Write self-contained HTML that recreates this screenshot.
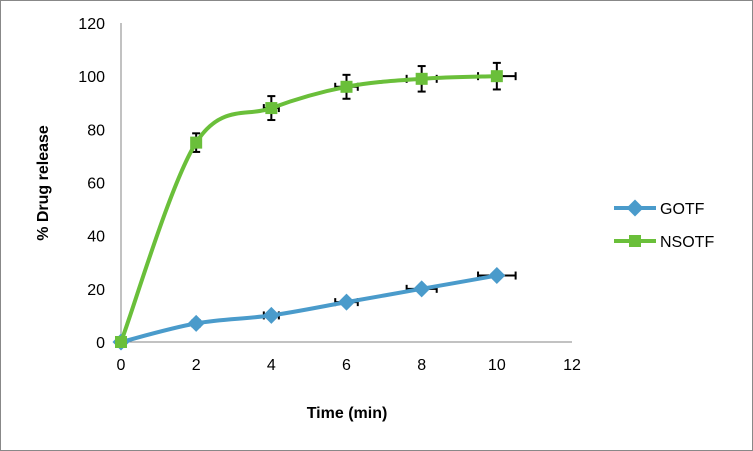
<!DOCTYPE html>
<html><head><meta charset="utf-8"><style>
body{margin:0;background:#fff;font-family:"Liberation Sans",Arial,sans-serif}
svg{display:block}
</style></head><body>
<svg width="753" height="451" id="c">
<rect x="0.5" y="0.5" width="752" height="450" fill="#fff" stroke="#888"/>
<g id="axes"></g><g id="series"></g>
<text x="347" y="418" text-anchor="middle" font-size="16" font-weight="bold">Time (min)</text>
<text transform="translate(48,183) rotate(-90)" text-anchor="middle" font-size="16" font-weight="bold">% Drug release</text>
<g>
<g><line x1="614" y1="208" x2="656" y2="208" stroke="#4a9bcb" stroke-width="4"/><rect x="629" y="202" width="12" height="12" fill="#4a9bcb" transform="rotate(45 635 208)"/><text x="660" y="214" font-size="16">GOTF</text></g>
<g><line x1="614" y1="241" x2="656" y2="241" stroke="#6abf3a" stroke-width="4"/><rect x="629" y="235" width="12" height="12" fill="#6abf3a"/><text x="660" y="247" font-size="16">NSOTF</text></g>
</g>
</svg>
<script>
const xs=[0,2,4,6,8,10];
const gotf=[0,7,10,15,20,25];
const nsotf=[0,75,88,96,99,100];
const gotfYErr=[0.5,1,1,1,1,1];
const nsotfYErr=[0,3.5,4.5,4.5,4.8,5];
const xErr=[0,0.1,0.2,0.3,0.4,0.5];
const xTicks=[0,2,4,6,8,10,12];
const yTicks=[0,20,40,60,80,100,120];
const NS='http://www.w3.org/2000/svg';
const X=v=>121+v*(572-121)/12, Y=v=>342-v*(342-23)/120;
function mk(t,a,p){const e=document.createElementNS(NS,t);for(const k in a)e.setAttribute(k,a[k]);p.appendChild(e);return e;}
const ax=document.getElementById('axes'), se=document.getElementById('series');
const ya=mk('line',{x1:X(0),y1:Y(120),x2:X(0),y2:Y(0),stroke:'#868686'},ax);


const xa=mk('line',{x1:X(0),y1:Y(0),x2:X(12),y2:Y(0),stroke:'#868686'},ax);


yTicks.forEach(v=>{const t=mk('text',{x:X(0)-16,y:Y(v)+6,'text-anchor':'end','font-size':16},ax);t.textContent=v;

});
xTicks.forEach(v=>{const t=mk('text',{x:X(v),y:Y(0)+28,'text-anchor':'middle','font-size':16},ax);t.textContent=v;

});
function smooth(pts){let d=`M${pts[0][0]},${pts[0][1]}`;const s=1/6;
for(let i=0;i<pts.length-1;i++){const p0=pts[Math.max(0,i-1)],p1=pts[i],p2=pts[i+1],p3=pts[Math.min(pts.length-1,i+2)];
d+=` C${p1[0]+(p2[0]-p0[0])*s},${p1[1]+(p2[1]-p0[1])*s} ${p2[0]-(p3[0]-p1[0])*s},${p2[1]-(p3[1]-p1[1])*s} ${p2[0]},${p2[1]}`;}return d;}
function errs(ys,ye,name){xs.forEach((x,i)=>{const g=mk('g',{stroke:'#000','stroke-width':2},se);


const cx=X(x),cy=Y(ys[i]);
if(ye[i]>0){const a=Y(ys[i]+ye[i]),b=Y(ys[i]-ye[i]);mk('line',{x1:cx,y1:a,x2:cx,y2:b},g);mk('line',{x1:cx-4,y1:a,x2:cx+4,y2:a},g);mk('line',{x1:cx-4,y1:b,x2:cx+4,y2:b},g);}
if(xErr[i]>0){const a=X(x-xErr[i]),b=X(x+xErr[i]);mk('line',{x1:a,y1:cy,x2:b,y2:cy},g);mk('line',{x1:a,y1:cy-4,x2:a,y2:cy+4},g);mk('line',{x1:b,y1:cy-4,x2:b,y2:cy+4},g);}});}
function series(ys,color,name,marker){
const p=mk('path',{d:smooth(xs.map((x,i)=>[X(x),Y(ys[i])])),fill:'none',stroke:color,'stroke-width':4},se);


xs.forEach((x,i)=>{const cx=X(x),cy=Y(ys[i]);let m;
if(marker==='d')m=mk('rect',{x:cx-6,y:cy-6,width:12,height:12,fill:color,transform:`rotate(45 ${cx} ${cy})`},se);
else m=mk('rect',{x:cx-6,y:cy-6,width:12,height:12,fill:color},se);

});}
errs(gotf,gotfYErr,'gotf');errs(nsotf,nsotfYErr,'nsotf');
series(gotf,'#4a9bcb','gotf','d');
series(nsotf,'#6abf3a','nsotf','s');
</script>
</body></html>
